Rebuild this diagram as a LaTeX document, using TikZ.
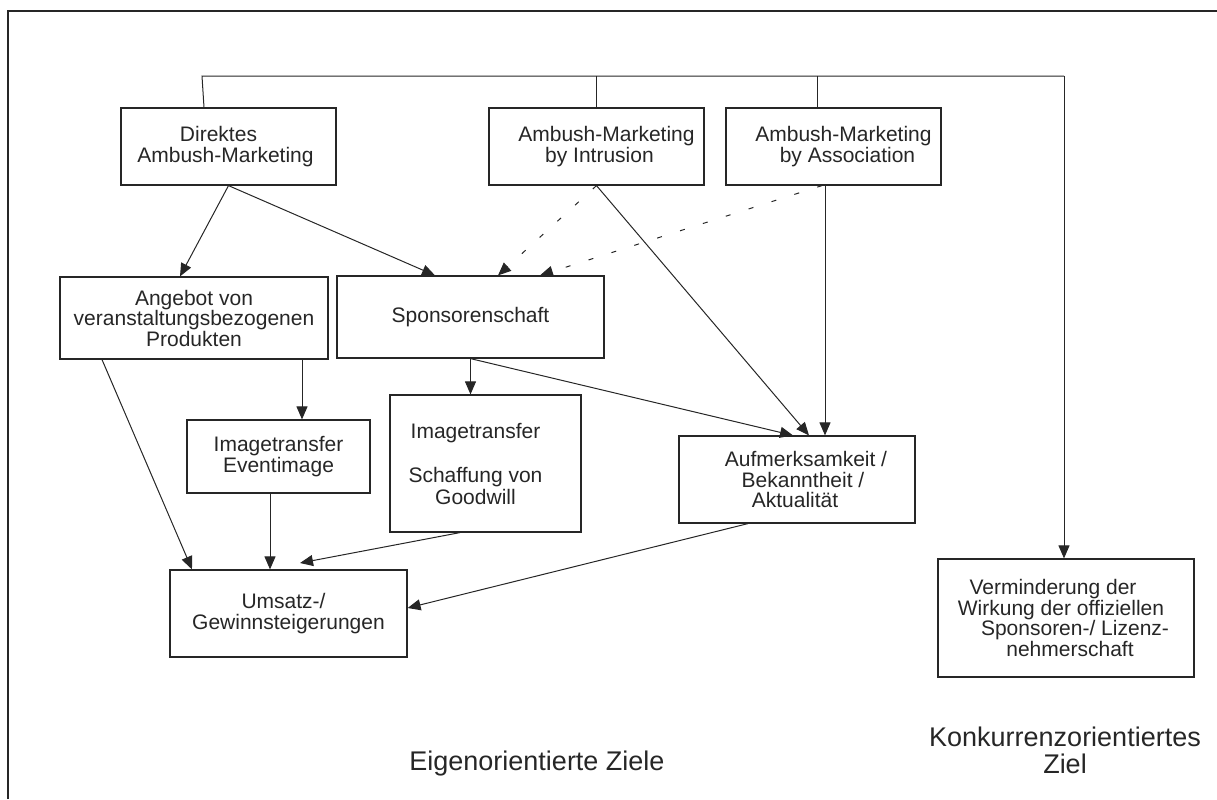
\documentclass[tikz,border=0pt]{standalone}
\usepackage{fontspec}
\setmainfont{Liberation Sans}
\usetikzlibrary{arrows.meta}
\definecolor{linegray}{HTML}{262626}

\begin{document}
\begin{tikzpicture}[x=0.5pt, y=-0.5pt, line width=0.5pt, color=linegray,
    box/.style={draw, line width=0.6pt, rectangle, align=center, inner sep=0pt,
                font=\fontsize{10.5pt}{10.25pt}\selectfont},
    boxsize/.style 2 args={minimum width=#1*0.5pt, minimum height=#2*0.5pt},
    arr/.style={-{Triangle[length=6.5pt, width=5.5pt]}},
    dashline/.style={dash pattern=on 2.5pt off 9.5pt},
    goal/.style={align=center, font=\fontsize{13.5pt}{13.5pt}\selectfont}]

  \useasboundingbox (0,0) rectangle (1217,799);
  \draw[line width=0.6pt] (8,799) -- (8,11) -- (1217,11);

  \node[box, boxsize={215}{77}] (direkt) at (228.5,146.5) {\hspace*{-10pt}Direktes\\\hspace*{-3pt}Ambush-Marketing};
  \node[box, boxsize={215}{77}] (intrus) at (596.5,146.5) {\hspace*{10pt}Ambush-Marketing\\\hspace*{3pt}by Intrusion};
  \node[box, boxsize={215}{77}] (assoc) at (833.5,146.5) {\hspace*{10pt}Ambush-Marketing\\\hspace*{14pt}by Association};
  \node[box, boxsize={268}{82}] (angebot) at (194,318) {Angebot von\\veranstaltungsbezogenen\\Produkten};
  \node[box, boxsize={267}{82}] (sponsor) at (470.5,317) {Sponsorenschaft};
  \node[box, boxsize={183}{73}] (eventimg) at (278.5,456.5) {Imagetransfer\\Eventimage};
  \node[box, boxsize={191}{137}, font=\fontsize{10.5pt}{11pt}\selectfont] (goodwill) at (485.5,463.5)
    {\hspace*{-10pt}Imagetransfer\\[11pt]\hspace*{-10pt}Schaffung von\\\hspace*{-10pt}Goodwill};
  \node[box, boxsize={237}{87}] (umsatz) at (288.5,613.5) {\hspace*{-5pt}Umsatz-/\\Gewinnsteigerungen};
  \node[box, boxsize={236}{87}] (aufmerk) at (797,479.5) {\hspace*{9pt}Aufmerksamkeit /\\\hspace*{6pt}Bekanntheit /\\\hspace*{-2pt}Aktualität};
  \node[box, boxsize={256}{118}] (vermind) at (1066,618)
    {\hspace*{-13pt}Verminderung der\\\hspace*{-5pt}Wirkung der offiziellen\\\hspace*{9pt}Sponsoren-/ Lizenz-\\\hspace*{4pt}nehmerschaft};

  \node[goal, anchor=base] (eigen) at (537,770) {Eigenorientierte Ziele};
  \node[goal] (konkurr) at (1065,750) {Konkurrenzorientiertes\\Ziel};

  % Verteiler oben
  \coordinate (busL) at (202,76);
  \coordinate (busR) at (1064,76);
  \draw (204,0 |- direkt.north) -- (busL) -- (busR);
  \draw (intrus.north) -- (intrus.north |- busL);
  \draw (817,0 |- assoc.north) -- (817,0 |- busL);
  \draw[arr] (busR) -- (busR |- vermind.north);

  \coordinate (gwend) at (300,563);

  \path[arr]
  (direkt.south) edge (180,0 |- angebot.north)
  (direkt.south) edge (435,0 |- sponsor.north)
  (intrus.south) edge[dashline] (498,0 |- sponsor.north)
  (822,0 |- assoc.south) edge[dashline] (540,0 |- sponsor.north)
  (intrus.south) edge (809,0 |- aufmerk.north)
  (825,0 |- assoc.south) edge (825,0 |- aufmerk.north)
  (sponsor.south) edge (sponsor.south |- goodwill.north)
  (sponsor.south) edge (793,0 |- aufmerk.north)
  (102,0 |- angebot.south) edge (192,0 |- umsatz.north)
  (302,0 |- angebot.south) edge (302,0 |- eventimg.north)
  (270,0 |- eventimg.south) edge (270,0 |- umsatz.north)
  (460,0 |- goodwill.south) edge (gwend)
  (748,0 |- aufmerk.south) edge (umsatz.east |- 0,608);

\end{tikzpicture}
\end{document}
